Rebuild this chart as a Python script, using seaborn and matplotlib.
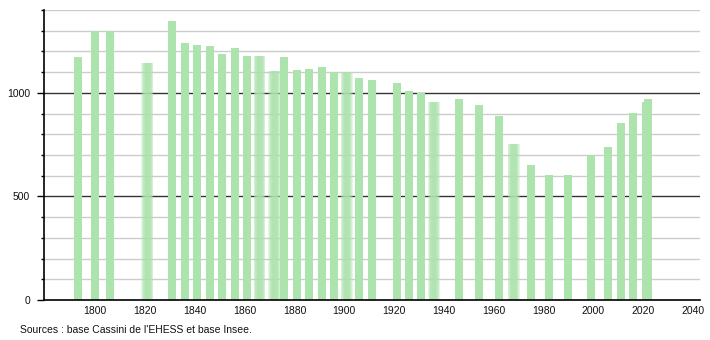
import numpy as np
import pandas as pd
import matplotlib
matplotlib.use("Agg")
import matplotlib.pyplot as plt
import seaborn as sns

years = [1793, 1800, 1806, 1821, 1831, 1836, 1841, 1846, 1851, 1856, 1861, 1866,
         1872, 1876, 1881, 1886, 1891, 1896, 1901, 1906, 1911, 1921, 1926, 1931,
         1936, 1946, 1954, 1962, 1968, 1975, 1982, 1990, 1999, 2006, 2011, 2016,
         2021, 2022]
population = [1174, 1298, 1298, 1145, 1345, 1242, 1229, 1226, 1186, 1215, 1179, 1179,
              1105, 1171, 1108, 1113, 1126, 1103, 1103, 1074, 1060, 1047, 1011, 998,
              957, 969, 939, 889, 755, 653, 602, 603, 698, 739, 853, 903,
              955, 971]
blurred_years = [1821, 1866, 1872, 1901, 1936, 1968]
x_ticks = [1800, 1820, 1840, 1860, 1880, 1900, 1920, 1940, 1960, 1980, 2000, 2020, 2040]
y_major = [0, 500, 1000]
source_text = "Sources : base Cassini de l'EHESS et base Insee."

sns.set_theme(style="white")
plt.rcParams['font.family'] = ['Liberation Sans', 'DejaVu Sans']

df = pd.DataFrame({"year": years, "pop": population})
df["blur"] = df["year"].isin(blurred_years)
sharp = df[~df["blur"]]
soft = df[df["blur"]]

bar_color = "#ade3ad"
bar_years = 3.2

fig = plt.figure(figsize=(7.1, 3.4), dpi=100)
ax = fig.add_axes([44 / 710, 1 - 300 / 340, (700 - 44) / 710, 290 / 340])

# grid
for v in range(100, 1401, 100):
    if v in y_major:
        ax.axhline(v, color="#333333", lw=1.0, zorder=0)
    else:
        ax.axhline(v, color="#cccccc", lw=1.0, zorder=0)

def native_min(vals):
    u = np.unique(vals)
    return np.diff(u).min() if len(u) > 1 else 1

nw = native_min(sharp["year"])
sns.barplot(data=sharp, x="year", y="pop", native_scale=True, color=bar_color,
            saturation=1, width=bar_years / nw, ax=ax, errorbar=None, zorder=2,
            linewidth=0)

nw2 = native_min(soft["year"])
for w in np.linspace(1.8, 4.8, 7):
    sns.barplot(data=soft, x="year", y="pop",
                native_scale=True, color=bar_color, saturation=1,
                width=w / nw2, ax=ax, errorbar=None, alpha=0.3, zorder=2,
                linewidth=0)

ax.set_xlim(1779.5, 2042.8)
ax.set_ylim(0, 1400)
ax.set_xticks(x_ticks)
ax.set_xticklabels([str(t) for t in x_ticks])
ax.set_yticks(y_major)
ax.set_yticklabels([str(t) for t in y_major])
ax.set_yticks(range(0, 1401, 100), minor=True)
ax.tick_params(axis="x", length=0, pad=4, labelsize=7.5, colors="#111111")
ax.tick_params(axis="y", which="major", length=5, width=1, pad=5, labelsize=7.5,
               left=True, color="black", labelcolor="#111111")
ax.tick_params(axis="y", which="minor", length=2.5, width=1, left=True, color="black")
ax.set_xlabel("")
ax.set_ylabel("")
for s in ["top", "right"]:
    ax.spines[s].set_visible(False)
for s in ["left", "bottom"]:
    ax.spines[s].set_color("black")
    ax.spines[s].set_linewidth(1.2)
ax.set_facecolor("white")

fig.text(20 / 710, 1 - 330 / 340, source_text, fontsize=7.5, color="#111111",
         ha="left", va="center")

fig.savefig("out.png", dpi=100)
